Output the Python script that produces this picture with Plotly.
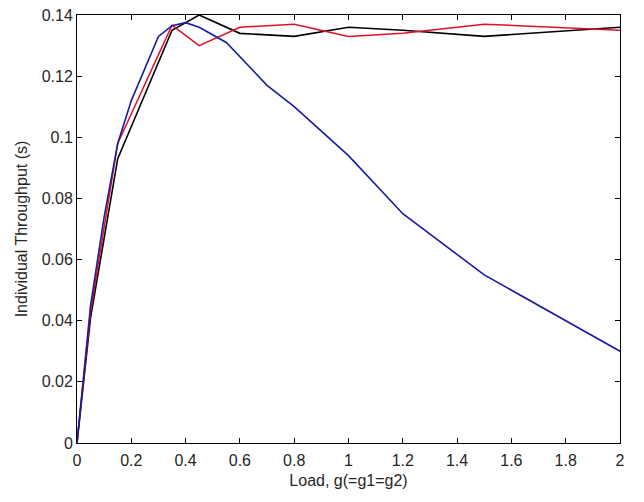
import plotly.graph_objects as go

# load values and throughput for each curve
x_blue = [0, 0.05, 0.1, 0.15, 0.2, 0.3, 0.35, 0.4, 0.45, 0.55, 0.7, 0.8, 1.0, 1.2, 1.5, 2.0]
y_blue = [0, 0.045, 0.074, 0.098, 0.112, 0.133, 0.1365, 0.1375, 0.136, 0.131, 0.117, 0.110, 0.094, 0.075, 0.055, 0.030]

x_red = [0, 0.05, 0.15, 0.35, 0.45, 0.6, 0.8, 1.0, 1.2, 1.5, 2.0]
y_red = [0, 0.043, 0.098, 0.1367, 0.130, 0.136, 0.137, 0.133, 0.134, 0.137, 0.135]

x_black = [0, 0.05, 0.15, 0.35, 0.45, 0.6, 0.8, 1.0, 1.2, 1.5, 2.0]
y_black = [0, 0.041, 0.093, 0.135, 0.140, 0.134, 0.133, 0.136, 0.135, 0.133, 0.136]

x_ticks = [0, 0.2, 0.4, 0.6, 0.8, 1, 1.2, 1.4, 1.6, 1.8, 2]
x_labels = ["0", "0.2", "0.4", "0.6", "0.8", "1", "1.2", "1.4", "1.6", "1.8", "2"]
y_ticks = [0, 0.02, 0.04, 0.06, 0.08, 0.1, 0.12, 0.14]
y_labels = ["0", "0.02", "0.04", "0.06", "0.08", "0.1", "0.12", "0.14"]

fig = go.Figure()

fig.add_trace(go.Scatter(x=x_black, y=y_black, mode="lines",
                         line={'color': '#000000', 'width': 1.6}))
fig.add_trace(go.Scatter(x=x_red, y=y_red, mode="lines",
                         line={'color': '#e0102a', 'width': 1.5}))
fig.add_trace(go.Scatter(x=x_blue, y=y_blue, mode="lines",
                         line={'color': '#1a1aa0', 'width': 1.6}))

axis_style = dict(showgrid=False, zeroline=False, showline=True, linecolor='black',
                  linewidth=1, mirror='ticks', ticks='inside', ticklen=5,
                  tickcolor='black', automargin=False,
                  tickfont={'size': 16, 'color': '#262626'})

fig.update_layout(
    width=644, height=502,
    showlegend=False,
    paper_bgcolor='white', plot_bgcolor='white',
    font={'family': 'Liberation Sans, Arial, sans-serif', 'color': '#262626'},
    margin={'l': 77, 'r': 24, 't': 15, 'b': 59},
    xaxis=dict(axis_style, range=[0, 2], tickvals=x_ticks, ticktext=x_labels,
               ticklabelstandoff=3,
               title={'text': 'Load, g(=g1=g2)', 'font': {'size': 16}, 'standoff': 6}),
    yaxis=dict(axis_style, range=[0, 0.14], tickvals=y_ticks, ticktext=y_labels,
               title={'text': 'Individual Throughput (s)', 'font': {'size': 16}, 'standoff': 10}),
)

# drop the page's default body margin so the figure sits at the window corner
fig.write_html("out.html", config={'displayModeBar': False},
               post_script="document.body.style.margin='0px';")
